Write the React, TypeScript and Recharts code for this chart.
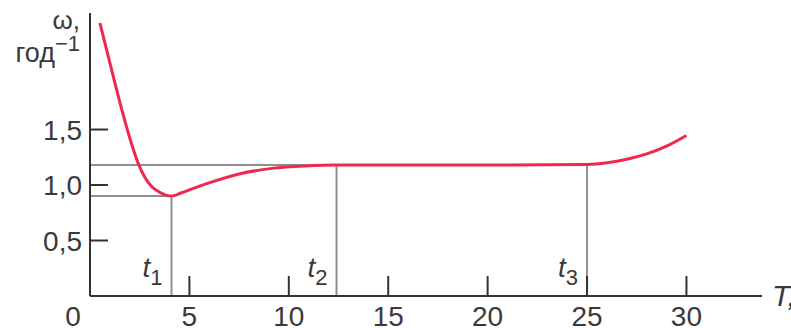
import React from 'react';
import { LineChart, Line, XAxis, YAxis, ReferenceLine, Label } from 'recharts';

// Curve: angular velocity ω (год⁻¹) vs T
const tValues = [0.5, 1.0, 1.6, 2.0, 2.47, 3.1, 3.5, 4.1, 4.6, 5.2, 5.83, 7.5, 9.16, 10.86, 12.4, 15, 20, 25, 26, 27, 28, 29, 30.0];
const omegaValues = [2.46, 2.1, 1.68, 1.424, 1.175, 0.986, 0.935, 0.9, 0.93, 0.97, 1.01, 1.1, 1.15, 1.172, 1.18, 1.18, 1.18, 1.185, 1.2, 1.232, 1.28, 1.35, 1.446];

// Axis ticks
const xTicks = [0, 5, 10, 15, 20, 25, 30];
const xTickLabels = ['0', '5', '10', '15', '20', '25', '30'];
const yTicks = [0.5, 1.0, 1.5];
const yTickLabels = ['0,5', '1,0', '1,5'];

// Marked moments t1, t2, t3
const markerNames = ['1', '2', '3'];
const markerT = [4.1, 12.4, 25.0];
const markerOmega = [0.9, 1.18, 1.185];

const xDomain = [0, 33.8];
const yDomain = [0, 2.55];

const data = tValues.map((t, i) => ({ t, w: omegaValues[i] }));

const FONT = '"Liberation Sans", Arial, Helvetica, sans-serif';
const TEXT = '#3a3a3a';
const AXIS = '#333333';
const GUIDE = '#8e8e8e';
const CURVE = '#f0284e';

const XTick = (props: any) => {
  const { x, y, payload } = props;
  const idx = xTicks.indexOf(payload.value);
  const label = idx >= 0 ? xTickLabels[idx] : String(payload.value);
  if (payload.value === 0) {
    return (
      <text x={x - 17} y={y + 30} textAnchor="middle" fontFamily={FONT} fontSize={28} fill={TEXT}>
        {label}
      </text>
    );
  }
  return (
    <g>
      <line x1={x} y1={y} x2={x} y2={y - 20} stroke={AXIS} strokeWidth={2} />
      <text x={x} y={y + 30} textAnchor="middle" fontFamily={FONT} fontSize={28} fill={TEXT}>
        {label}
      </text>
    </g>
  );
};

const YTick = (props: any) => {
  const { x, y, payload } = props;
  const idx = yTicks.indexOf(payload.value);
  const label = idx >= 0 ? yTickLabels[idx] : String(payload.value);
  return (
    <g>
      <line x1={x} y1={y} x2={x + 18} y2={y} stroke={AXIS} strokeWidth={2} />
      <text x={x - 8} y={y + 10} textAnchor="end" fontFamily={FONT} fontSize={28} fill={TEXT}>
        {label}
      </text>
    </g>
  );
};

const YAxisTitle = (props: any) => {
  const vb = props.viewBox || { x: 0, y: 13, width: 90, height: 283 };
  const right = vb.x + vb.width - 10;
  return (
    <g fontFamily={FONT} fill={TEXT}>
      <text x={right} y={vb.y + 16} textAnchor="end" fontSize={26}>ω,</text>
      <text x={right} y={vb.y + 49} textAnchor="end" fontSize={27}>
        год<tspan fontSize={22} dy={-11}>−1</tspan>
      </text>
    </g>
  );
};

const XAxisTitle = (props: any) => {
  const vb = props.viewBox || { x: 90, y: 296, width: 672, height: 32 };
  return (
    <text x={vb.x + vb.width + 10} y={vb.y + 10} fontFamily={FONT} fontSize={30} fontStyle="italic" fill={TEXT}>
      T,
    </text>
  );
};

const makeMarkerLabel = (name: string) => (props: any) => {
  const vb = props.viewBox;
  if (!vb) return null;
  const bottom = vb.y + vb.height;
  return (
    <text x={vb.x - 9} y={bottom - 19} textAnchor="end" fontFamily={FONT} fill={TEXT}>
      <tspan fontSize={28} fontStyle="italic">t</tspan>
      <tspan fontSize={22} dy={8}>{name}</tspan>
    </text>
  );
};

export default function App() {
  return (
    <div style={{ position: 'absolute', left: 0, top: 0, width: 791, height: 328, background: '#fff' }}>
      <LineChart width={791} height={328} data={data} margin={{ top: 13, right: 29, bottom: 0, left: 0 }}>
        <XAxis
          dataKey="t"
          type="number"
          domain={xDomain}
          ticks={xTicks}
          interval={0}
          allowDataOverflow
          height={32}
          tickSize={0}
          tickMargin={0}
          tickLine={false}
          axisLine={{ stroke: AXIS, strokeWidth: 2 }}
          tick={<XTick />}
        >
          <Label content={<XAxisTitle />} />
        </XAxis>
        <YAxis
          type="number"
          domain={yDomain}
          ticks={yTicks}
          interval={0}
          allowDataOverflow
          width={90}
          tickSize={0}
          tickMargin={0}
          tickLine={false}
          axisLine={{ stroke: AXIS, strokeWidth: 2 }}
          tick={<YTick />}
        >
          <Label content={<YAxisTitle />} />
        </YAxis>
        {/* horizontal guides */}
        <ReferenceLine segment={[{ x: 0, y: markerOmega[0] }, { x: markerT[0], y: markerOmega[0] }]} stroke={GUIDE} strokeWidth={2} />
        <ReferenceLine segment={[{ x: 0, y: markerOmega[1] }, { x: markerT[1], y: markerOmega[1] }]} stroke={GUIDE} strokeWidth={2} />
        {/* vertical guides */}
        {markerT.map((t, i) => (
          <ReferenceLine
            key={'v' + i}
            segment={[{ x: t, y: 0 }, { x: t, y: markerOmega[i] }]}
            stroke={GUIDE}
            strokeWidth={2}
            label={{ content: makeMarkerLabel(markerNames[i]) }}
          />
        ))}
        <Line
          type="monotone"
          dataKey="w"
          stroke={CURVE}
          strokeWidth={3}
          dot={false}
          activeDot={false}
          isAnimationActive={false}
        />
      </LineChart>
    </div>
  );
}
